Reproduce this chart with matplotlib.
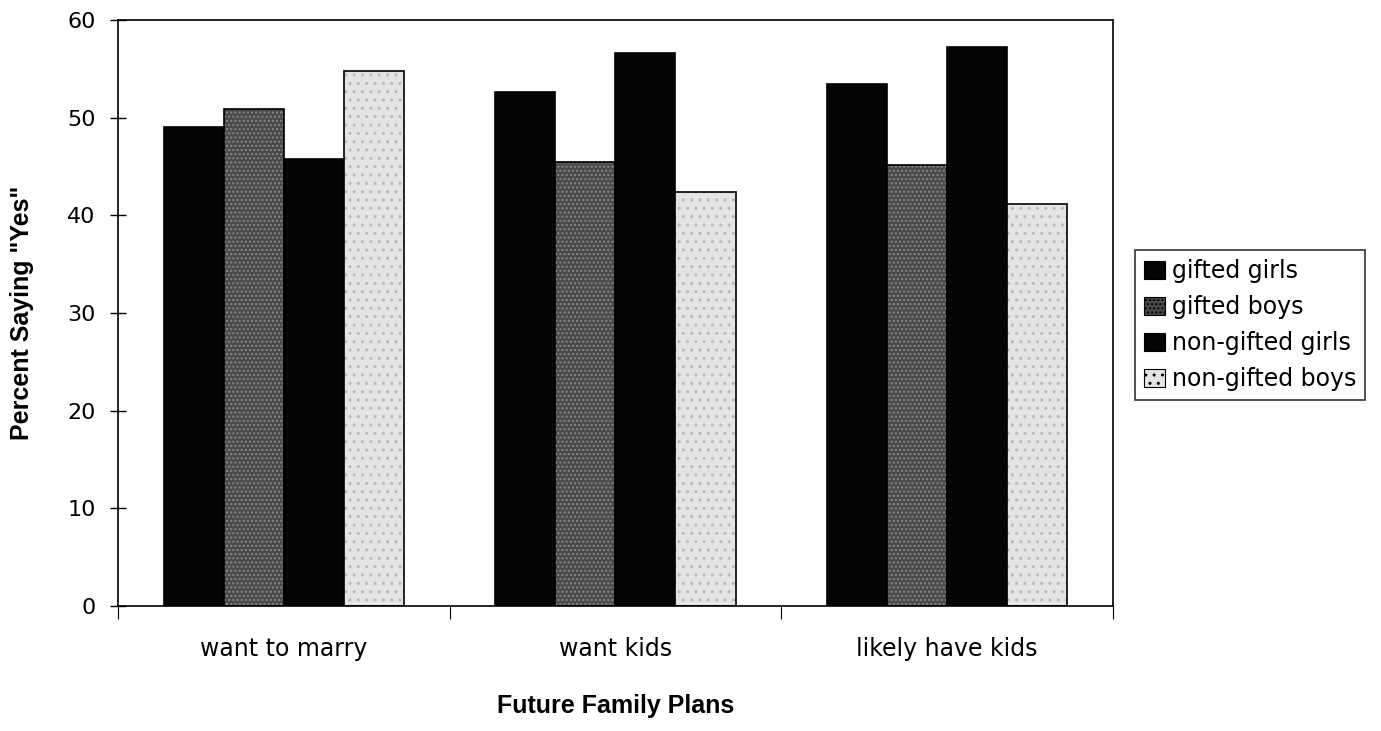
import numpy as np
import matplotlib
matplotlib.use('Agg')
import matplotlib.pyplot as plt

plt.rcParams['font.family'] = ['DejaVu Sans']

# data
categories = ['want to marry', 'want kids', 'likely have kids']
groups = ['gifted girls', 'gifted boys', 'non-gifted girls', 'non-gifted boys']
gifted_girls = [49.0, 52.6, 53.4]
gifted_boys = [50.9, 45.5, 45.2]
nongifted_girls = [45.8, 56.6, 57.2]
nongifted_boys = [54.8, 42.4, 41.2]
yticks = [0, 10, 20, 30, 40, 50, 60]

series = [gifted_girls, gifted_boys, nongifted_girls, nongifted_boys]
colors = ['#050505', '#4a4a4a', '#050505', '#e4e4e4']
hatches = [None, '....', None, '..']
hatchcols = ['#050505', '#8a8a8a', '#050505', '#b8b8b8']

fig = plt.figure(figsize=(13.81, 7.31), dpi=100)
ax = fig.add_axes([0.0854, 0.171, 0.7205, 0.8016])

x = np.arange(len(categories))
w = 0.181
for i in range(4):
    pos = x + (i - 1.5)*w
    # hatch layer first, then outline on top
    ax.bar(pos, series[i], w, color=colors[i], hatch=hatches[i],
           edgecolor=hatchcols[i], linewidth=0, label=groups[i])
    ax.bar(pos, series[i], w, fill=False, edgecolor='black', linewidth=1.2)

ax.set_xlim(-0.5, 2.5)
ax.set_ylim(0, 60)
ax.set_yticks(yticks)
ax.set_yticklabels([str(t) for t in yticks], fontsize=16)
ax.tick_params(axis='y', direction='inout', length=12, width=1, pad=10)

ax.set_xticks(x)
ax.set_xticklabels(categories, fontsize=17)
ax.tick_params(axis='x', which='major', length=0, pad=22)
ax.set_xticks([-0.5, 0.5, 1.5, 2.5], minor=True)
ax.tick_params(axis='x', which='minor', direction='out', length=9, width=0.8)

for s in ax.spines.values():
    s.set_linewidth(1.2)

ax.set_ylabel('Percent Saying "Yes"', fontsize=18, fontweight='bold',
              family='Liberation Sans')
ax.yaxis.set_label_coords(-0.0844, 0.5)
ax.set_xlabel('Future Family Plans', fontsize=18, fontweight='bold',
              family='Liberation Sans')
ax.xaxis.set_label_coords(0.5, -0.150)

h, l = ax.get_legend_handles_labels()
leg = fig.legend(h, l, loc='upper left', bbox_to_anchor=(0.8219, 0.658),
                 fontsize=17, frameon=True, fancybox=False, edgecolor='black',
                 handlelength=0.85, handleheight=0.8, handletextpad=0.3,
                 labelspacing=0.5, borderpad=0.4, borderaxespad=0)
leg.get_frame().set_linewidth(1.2)
for p in leg.get_patches():
    p.set_edgecolor('black')
    p.set_linewidth(0.8)

fig.savefig('out.png', dpi=100)
